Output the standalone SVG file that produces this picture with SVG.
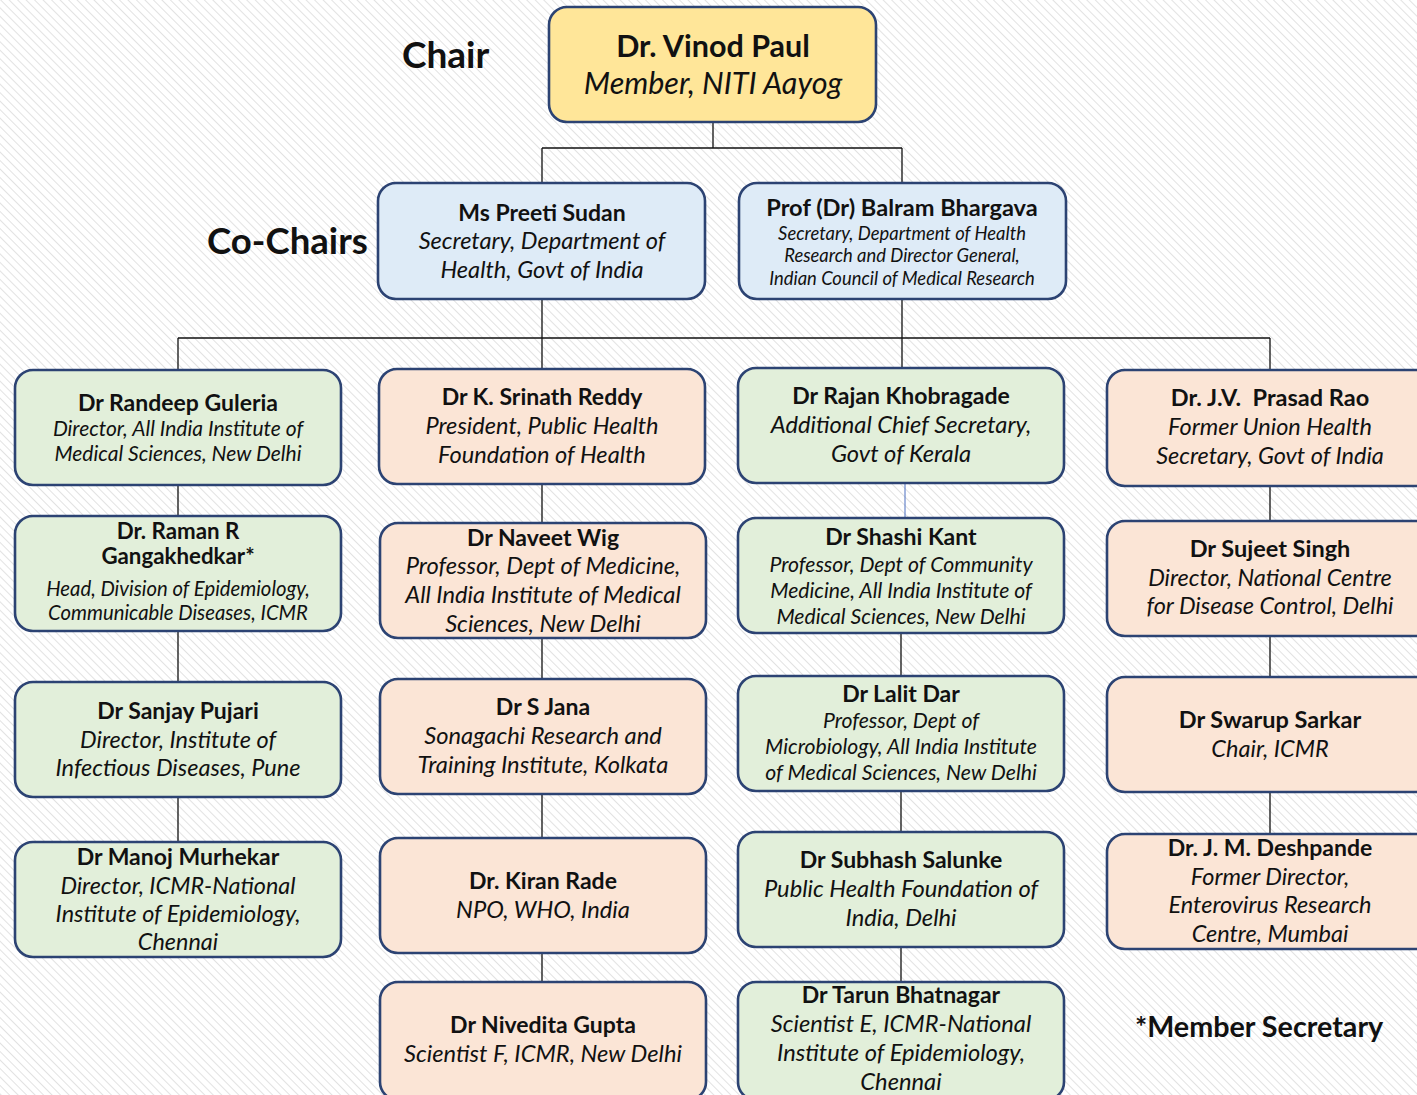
<svg xmlns="http://www.w3.org/2000/svg" width="1417" height="1095" viewBox="0 0 1417 1095">
<defs>
<pattern id="hatch" width="6" height="6" patternUnits="userSpaceOnUse" patternTransform="rotate(-45)">
<rect width="6" height="6" fill="#ffffff"/>
<line x1="0" y1="0" x2="0" y2="6" stroke="#e2e2e2" stroke-width="2"/>
</pattern>
</defs>
<style>
.box{stroke:#2c4373;stroke-width:2.6}
.y{fill:#ffe699}.b{fill:#deebf7}.g{fill:#e2efda}.p{fill:#fbe5d6}
text{font-family:Lato,"Open Sans","Liberation Sans",sans-serif;fill:#111;text-anchor:middle}
.n{font-weight:bold}
.s{font-style:italic}
.lbl{font-weight:bold;text-anchor:start}
.c{stroke:#111;stroke-width:1.3;fill:none}
</style>
<rect width="1417" height="1095" fill="url(#hatch)"/>
<text class="lbl" x="402" y="68" font-size="37">Chair</text>
<text class="lbl" x="207" y="254" font-size="36.6">Co-Chairs</text>
<text class="lbl" x="1135" y="1037" font-size="28.7">*Member Secretary</text>
<g id="connectors">
<path class="c" d="M713 122V148M542 148H902M542 148V183M902 148V183"/>
<path class="c" d="M178 338H1270M542 299V369M902 299V368M178 338V370M1270 338V370"/>
<path class="c" d="M178 485V516M178 631V682M178 797V842"/>
<path class="c" d="M542 484V523M542 638V679M542 794V838M542 953V982"/>
<path d="M905 483V518" stroke="#4a6fc0" stroke-width="1"/>
<path class="c" d="M901 633V676M901 791V832M901 947V982"/>
<path class="c" d="M1270 486V521M1270 636V677M1270 792V834"/>
</g>
<g id="chair">
<rect class="box y" x="549" y="7" width="327" height="115" rx="18"/>
<text class="n" x="713" y="57" font-size="30.5">Dr. Vinod Paul</text>
<text class="s" x="713" y="94" font-size="30.5">Member, NITI Aayog</text>
</g>
<g id="preeti">
<rect class="box b" x="378" y="183" width="327" height="116" rx="18"/>
<text class="n" x="542" y="221" font-size="23">Ms Preeti Sudan</text>
<text class="s" x="542" y="249" font-size="23.6">Secretary, Department of</text>
<text class="s" x="542" y="278" font-size="23.6">Health, Govt of India</text>
</g>
<g id="bhargava">
<rect class="box b" x="739" y="183" width="327" height="116" rx="18"/>
<text class="n" x="902" y="216" font-size="23.6">Prof (Dr) Balram Bhargava</text>
<text class="s" x="902" y="240" font-size="18.4">Secretary, Department of Health</text>
<text class="s" x="902" y="262" font-size="18.4">Research and Director General,</text>
<text class="s" x="902" y="285" font-size="18.4">Indian Council of Medical Research</text>
</g>
<g id="guleria">
<rect class="box g" x="15" y="370" width="326" height="115" rx="18"/>
<text class="n" x="178" y="411" font-size="23">Dr Randeep Guleria</text>
<text class="s" x="178" y="436" font-size="21">Director, All India Institute of</text>
<text class="s" x="178" y="461" font-size="21">Medical Sciences, New Delhi</text>
</g>
<g id="gangakhedkar">
<rect class="box g" x="15" y="516" width="326" height="115" rx="18"/>
<text class="n" x="178" y="539" font-size="22.3">Dr. Raman R</text>
<text class="n" x="178" y="564" font-size="22.3">Gangakhedkar*</text>
<text class="s" x="178" y="596" font-size="20.3">Head, Division of Epidemiology,</text>
<text class="s" x="178" y="620" font-size="20.3">Communicable Diseases, ICMR</text>
</g>
<g id="pujari">
<rect class="box g" x="15" y="682" width="326" height="115" rx="18"/>
<text class="n" x="178" y="719" font-size="23">Dr Sanjay Pujari</text>
<text class="s" x="178" y="748" font-size="23.5">Director, Institute of</text>
<text class="s" x="178" y="776" font-size="23.5">Infectious Diseases, Pune</text>
</g>
<g id="murhekar">
<rect class="box g" x="15" y="842" width="326" height="115" rx="18"/>
<text class="n" x="178" y="865" font-size="23">Dr Manoj Murhekar</text>
<text class="s" x="178" y="894" font-size="23.4">Director, ICMR-National</text>
<text class="s" x="178" y="922" font-size="23.4">Institute of Epidemiology,</text>
<text class="s" x="178" y="950" font-size="23.4">Chennai</text>
</g>
<g id="reddy">
<rect class="box p" x="379" y="369" width="326" height="115" rx="18"/>
<text class="n" x="542" y="405" font-size="23">Dr K. Srinath Reddy</text>
<text class="s" x="542" y="434" font-size="23.6">President, Public Health</text>
<text class="s" x="542" y="463" font-size="23.6">Foundation of Health</text>
</g>
<g id="wig">
<rect class="box p" x="380" y="523" width="326" height="115" rx="18"/>
<text class="n" x="543" y="546" font-size="23">Dr Naveet Wig</text>
<text class="s" x="543" y="574" font-size="23.7">Professor, Dept of Medicine,</text>
<text class="s" x="543" y="603" font-size="23.7">All India Institute of Medical</text>
<text class="s" x="543" y="632" font-size="23.7">Sciences, New Delhi</text>
</g>
<g id="jana">
<rect class="box p" x="380" y="679" width="326" height="115" rx="18"/>
<text class="n" x="543" y="715" font-size="23">Dr S Jana</text>
<text class="s" x="543" y="744" font-size="23.7">Sonagachi Research and</text>
<text class="s" x="543" y="773" font-size="23.7">Training Institute, Kolkata</text>
</g>
<g id="rade">
<rect class="box p" x="380" y="838" width="326" height="115" rx="18"/>
<text class="n" x="543" y="889" font-size="23">Dr. Kiran Rade</text>
<text class="s" x="543" y="918" font-size="23.7">NPO, WHO, India</text>
</g>
<g id="gupta">
<rect class="box p" x="380" y="982" width="326" height="118" rx="18"/>
<text class="n" x="543" y="1033" font-size="23">Dr Nivedita Gupta</text>
<text class="s" x="543" y="1062" font-size="23.7">Scientist F, ICMR, New Delhi</text>
</g>
<g id="khobragade">
<rect class="box g" x="738" y="368" width="326" height="115" rx="18"/>
<text class="n" x="901" y="404" font-size="23">Dr Rajan Khobragade</text>
<text class="s" x="901" y="433" font-size="23.7">Additional Chief Secretary,</text>
<text class="s" x="901" y="462" font-size="23.7">Govt of Kerala</text>
</g>
<g id="kant">
<rect class="box g" x="738" y="518" width="326" height="115" rx="18"/>
<text class="n" x="901" y="545" font-size="23">Dr Shashi Kant</text>
<text class="s" x="901" y="572" font-size="21.2">Professor, Dept of Community</text>
<text class="s" x="901" y="598" font-size="21.2">Medicine, All India Institute of</text>
<text class="s" x="901" y="624" font-size="21.2">Medical Sciences, New Delhi</text>
</g>
<g id="dar">
<rect class="box g" x="738" y="676" width="326" height="115" rx="18"/>
<text class="n" x="901" y="702" font-size="23">Dr Lalit Dar</text>
<text class="s" x="901" y="728" font-size="21.2">Professor, Dept of</text>
<text class="s" x="901" y="754" font-size="21.2">Microbiology, All India Institute</text>
<text class="s" x="901" y="780" font-size="21.2">of Medical Sciences, New Delhi</text>
</g>
<g id="salunke">
<rect class="box g" x="738" y="832" width="326" height="115" rx="18"/>
<text class="n" x="901" y="868" font-size="23">Dr Subhash Salunke</text>
<text class="s" x="901" y="897" font-size="23.7">Public Health Foundation of</text>
<text class="s" x="901" y="926" font-size="23.7">India, Delhi</text>
</g>
<g id="bhatnagar">
<rect class="box g" x="738" y="982" width="326" height="118" rx="18"/>
<text class="n" x="901" y="1003" font-size="23">Dr Tarun Bhatnagar</text>
<text class="s" x="901" y="1032" font-size="23.7">Scientist E, ICMR-National</text>
<text class="s" x="901" y="1061" font-size="23.7">Institute of Epidemiology,</text>
<text class="s" x="901" y="1090" font-size="23.7">Chennai</text>
</g>
<g id="rao">
<rect class="box p" x="1107" y="370" width="330" height="116" rx="18"/>
<text class="n" x="1270" y="406" font-size="23.5" xml:space="preserve">Dr. J.V.  Prasad Rao</text>
<text class="s" x="1270" y="435" font-size="23.5">Former Union Health</text>
<text class="s" x="1270" y="464" font-size="23.5">Secretary, Govt of India</text>
</g>
<g id="singh">
<rect class="box p" x="1107" y="521" width="330" height="115" rx="18"/>
<text class="n" x="1270" y="557" font-size="23.5">Dr Sujeet Singh</text>
<text class="s" x="1270" y="586" font-size="23.5">Director, National Centre</text>
<text class="s" x="1270" y="614" font-size="23.5">for Disease Control, Delhi</text>
</g>
<g id="sarkar">
<rect class="box p" x="1107" y="677" width="330" height="115" rx="18"/>
<text class="n" x="1270" y="728" font-size="23.5">Dr Swarup Sarkar</text>
<text class="s" x="1270" y="757" font-size="23.5">Chair, ICMR</text>
</g>
<g id="deshpande">
<rect class="box p" x="1107" y="834" width="330" height="115" rx="18"/>
<text class="n" x="1270" y="856" font-size="23">Dr. J. M. Deshpande</text>
<text class="s" x="1270" y="885" font-size="23.5">Former Director,</text>
<text class="s" x="1270" y="913" font-size="23.5">Enterovirus Research</text>
<text class="s" x="1270" y="942" font-size="23.5">Centre, Mumbai</text>
</g>
</svg>
